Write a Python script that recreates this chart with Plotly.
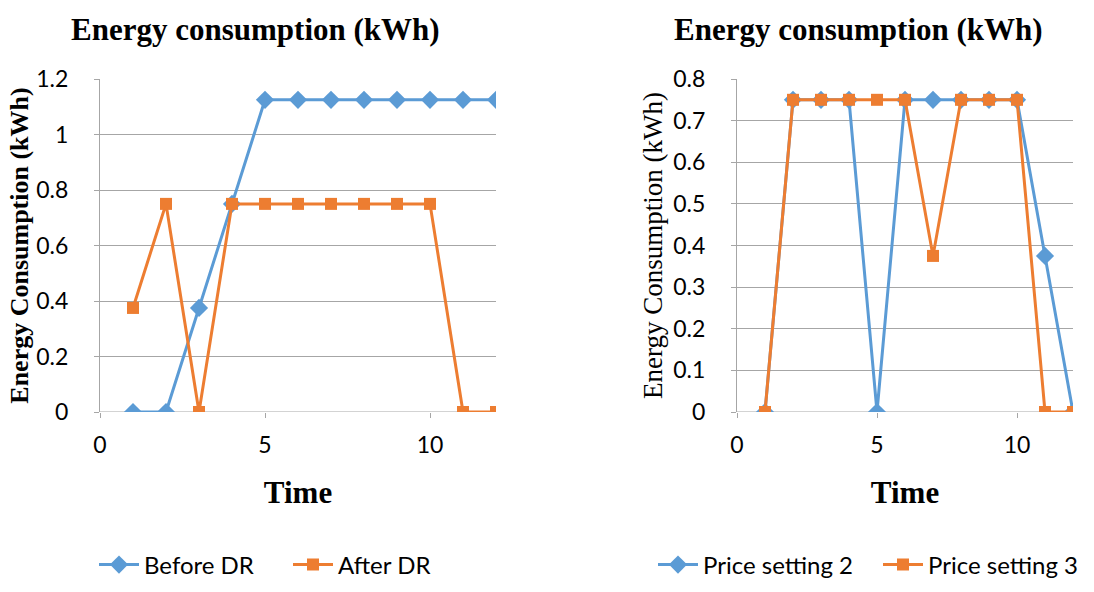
import plotly.graph_objects as go

# Hourly time steps
time = [1, 2, 3, 4, 5, 6, 7, 8, 9, 10, 11, 12]

# Left panel: consumption before and after demand response
before_dr = [0, 0, 0.375, 0.75, 1.125, 1.125, 1.125, 1.125, 1.125, 1.125, 1.125, 1.125]
after_dr = [0.375, 0.75, 0, 0.75, 0.75, 0.75, 0.75, 0.75, 0.75, 0.75, 0, 0]

# Right panel: consumption under two price settings
price_setting_2 = [0, 0.75, 0.75, 0.75, 0, 0.75, 0.75, 0.75, 0.75, 0.75, 0.375, 0]
price_setting_3 = [0, 0.75, 0.75, 0.75, 0.75, 0.75, 0.375, 0.75, 0.75, 0.75, 0, 0]

BLUE = "#5B9BD5"
ORANGE = "#ED7D31"
GRID = "#A6A6A6"
SANS = "Lato, Open Sans, sans-serif"
SERIF = "Liberation Serif, Times New Roman, serif"
TICK_FONT = dict(family=SANS, size=23, color="#000")

fig = go.Figure()


def add_series(x, y, name, color, symbol, size, xa, ya, legend):
    fig.add_trace(go.Scatter(
        x=x, y=y, name=name, mode="lines+markers",
        line=dict(color=color, width=3),
        marker=dict(color=color, symbol=symbol, size=size),
        xaxis=xa, yaxis=ya, legend=legend,
    ))


add_series(time, before_dr, "Before DR", BLUE, "diamond", 14, "x", "y", "legend")
add_series(time, after_dr, "After DR", ORANGE, "square", 12, "x", "y", "legend")
add_series(time, price_setting_2, "Price setting 2", BLUE, "diamond", 14, "x2", "y2", "legend2")
add_series(time, price_setting_3, "Price setting 3", ORANGE, "square", 12, "x2", "y2", "legend2")

W, H = 1094, 592
y_dom = [1 - 412 / H, 1 - 79 / H]

xaxis_common = dict(
    range=[0, 12], dtick=5, tick0=0, showgrid=False, zeroline=False,
    showline=False, ticks="outside", ticklen=5, tickcolor=GRID,
    tickfont=TICK_FONT, ticklabelstandoff=7, automargin=False,
)
yaxis_common = dict(
    showgrid=True, gridcolor=GRID, gridwidth=1, zeroline=False,
    showline=True, linecolor=GRID, linewidth=1, ticks="outside",
    ticklen=5, tickcolor=GRID, tickfont=TICK_FONT, domain=y_dom,
    ticklabelstandoff=21, automargin=False,
)
time_title = dict(text="<b>Time</b>", font=dict(family=SERIF, size=31, color="#000"), standoff=24)
legend_common = dict(orientation="h", y=1 - 565 / H, yanchor="middle", xanchor="left",
                     font=dict(family=SANS, size=24, color="#000"),
                     itemwidth=40, tracegroupgap=0, bgcolor="rgba(0,0,0,0)",
                     entrywidthmode="pixels")

title_font = dict(family=SERIF, size=31, color="#000")

fig.update_layout(
    width=W, height=H,
    margin=dict(l=0, r=0, t=0, b=0, autoexpand=False),
    paper_bgcolor="white", plot_bgcolor="white",
    xaxis=dict(**xaxis_common, domain=[100 / W, 496 / W], anchor="y", title=time_title),
    yaxis=dict(**yaxis_common, range=[0, 1.2], dtick=0.2, anchor="x",
               title=dict(text="<b>Energy Consumption (kWh)</b>",
                          font=dict(family=SERIF, size=26, color="#000"), standoff=0)),
    xaxis2=dict(**xaxis_common, domain=[737 / W, 1073 / W], anchor="y2", title=time_title),
    yaxis2=dict(**yaxis_common, range=[0, 0.8], dtick=0.1, anchor="x2",
                title=dict(text="Energy Consumption (kWh)",
                           font=dict(family=SERIF, size=27, color="#000"), standoff=2)),
    legend=dict(**legend_common, x=94 / W, entrywidth=139),
    legend2=dict(**legend_common, x=653 / W, entrywidth=170),
    annotations=[
        dict(text="<b>Energy consumption (kWh)</b>", x=255 / W, y=1 - 30 / H,
             xref="paper", yref="paper", showarrow=False,
             xanchor="center", yanchor="middle", font=title_font),
        dict(text="<b>Energy consumption (kWh)</b>", x=858 / W, y=1 - 30 / H,
             xref="paper", yref="paper", showarrow=False,
             xanchor="center", yanchor="middle", font=title_font),
    ],
)

# Horizontal axis line along y = 0 for both panels
for xa, ya in (("x", "y"), ("x2", "y2")):
    fig.add_shape(type="line", xref=f"{xa} domain", yref=ya, x0=0, x1=1, y0=0, y1=0,
                  line=dict(color=GRID, width=1), layer="below")

fig.write_html("out.html")
